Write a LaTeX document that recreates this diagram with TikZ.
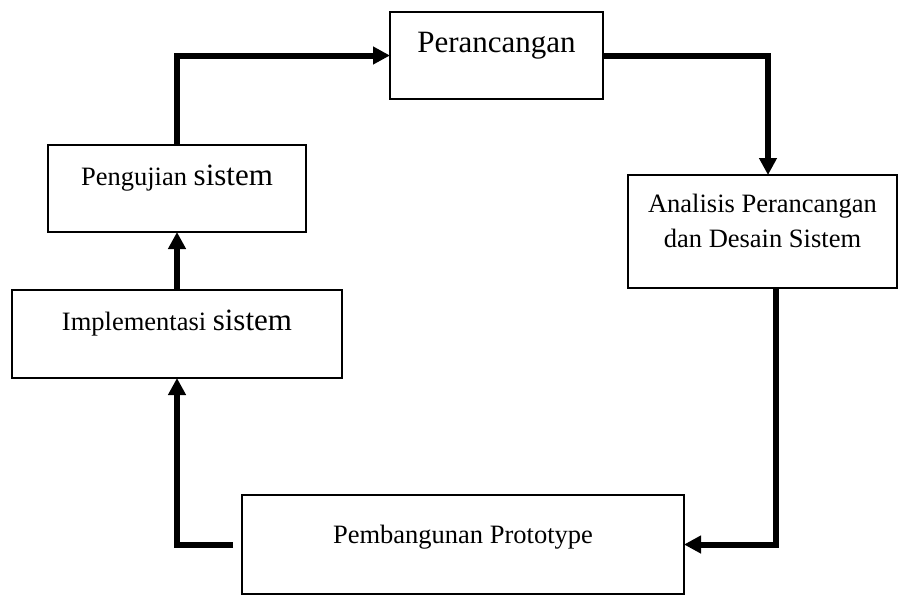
\documentclass[tikz,border=0pt]{standalone}
\usepackage{fontspec}
\setmainfont{Liberation Serif}
\usetikzlibrary{arrows.meta}
\begin{document}
\begin{tikzpicture}[x=1pt,y=-1pt,
  box/.style={draw, line width=1.8pt, inner xsep=0pt, inner ysep=0pt, outer sep=0pt,
    align=center, anchor=north west, font=\fontsize{26.5}{35}\selectfont},
  big/.style={font=\fontsize{31}{37}\selectfont},
  conn/.style={line width=6pt, -{Triangle[length=17pt,width=17pt]}}]
\useasboundingbox (0,0) rectangle (900,595);

\node[box, big, minimum width=213pt, text height=40pt, text depth=47pt] (per) at (390,12) {Perancangan};
\node[box, minimum width=258pt, text height=40pt, text depth=47pt] (pen) at (48,145)
  {Pengujian {\fontsize{31}{37}\selectfont sistem}};
\node[box, minimum width=330pt, text height=40pt, text depth=48pt] (imp) at (12,290)
  {Implementasi {\fontsize{31}{37}\selectfont sistem}};
\node[box, minimum width=269pt, text height=72pt, text depth=41pt] (ana) at (628,175)
  {Analisis Perancangan\\dan Desain Sistem};
\node[box, minimum width=442pt, text height=48pt, text depth=51pt] (pro) at (242,495)
  {Pembangunan Prototype};

\draw[conn] (pen.north) |- (per.west);
\draw[conn] (per.east) -| ([xshift=5.5pt]ana.north);
\draw[conn] ([xshift=13.5pt]ana.south) |- (pro.east);
\draw[conn, shorten <=9pt] (pro.west) -| (imp.south);
\draw[conn] (imp.north) -- (pen.south);
\end{tikzpicture}
\end{document}
